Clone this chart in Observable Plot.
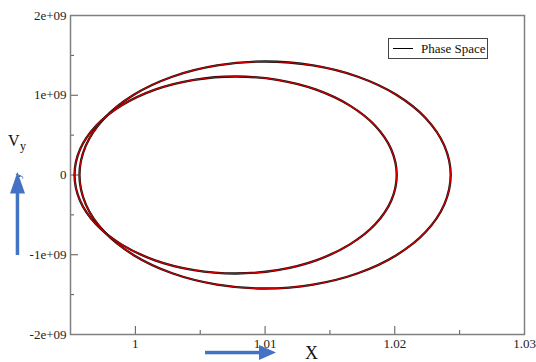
<!DOCTYPE html>
<html>
<head>
<meta charset="utf-8">
<script src="https://cdn.jsdelivr.net/npm/d3@7"></script>
<script src="https://cdn.jsdelivr.net/npm/@observablehq/plot@0.6"></script>
<style>
  body { margin: 0; background: #fff; }
  #wrap { position: relative; width: 536px; height: 362px; font-family: "Liberation Serif", "Times New Roman", serif; }
  #wrap svg text { font-family: "Liberation Serif", "Times New Roman", serif !important; }
  #wrap svg.deco { position: absolute; left: 0; top: 0; pointer-events: none; }
  #legend { position: absolute; left: 388px; top: 38px; width: 100px; height: 21px; box-sizing: border-box;
            border: 1px solid #444; background: #fff; font-size: 13px; color: #111; }
  #legend .sw { position: absolute; left: 4px; top: 9px; width: 20px; height: 0; border-top: 1.6px solid #000; }
  #legend .lb { position: absolute; left: 32px; top: 2px; line-height: 15px; white-space: nowrap; }
</style>
</head>
<body>
<div id="wrap"></div>
<script>
// Outer (taller, wider) loop
const loopAX  = [1.02431, 1.02382, 1.02239, 1.02012, 1.01716, 1.01370, 1.01000, 1.00630, 1.00284, 0.99988, 0.99761, 0.99618,
                 0.99569, 0.99618, 0.99761, 0.99988, 1.00284, 1.00630, 1.01000, 1.01370, 1.01716, 1.02012, 1.02239, 1.02382];
const loopAVy = [0, 0.368e9, 0.712e9, 1.006e9, 1.232e9, 1.374e9, 1.423e9, 1.374e9, 1.232e9, 1.006e9, 0.712e9, 0.368e9,
                 0, -0.368e9, -0.712e9, -1.006e9, -1.232e9, -1.374e9, -1.423e9, -1.374e9, -1.232e9, -1.006e9, -0.712e9, -0.368e9];
// Inner (shorter) loop
const loopBX  = [1.02015, 1.01973, 1.01849, 1.01651, 1.01394, 1.01095, 1.00773, 1.00452, 1.00152, 0.99895, 0.99697, 0.99573,
                 0.99531, 0.99573, 0.99697, 0.99895, 1.00152, 1.00452, 1.00773, 1.01095, 1.01394, 1.01651, 1.01849, 1.01973];
const loopBVy = [0, 0.320e9, 0.618e9, 0.873e9, 1.070e9, 1.193e9, 1.235e9, 1.193e9, 1.070e9, 0.873e9, 0.618e9, 0.320e9,
                 0, -0.320e9, -0.618e9, -0.873e9, -1.070e9, -1.193e9, -1.235e9, -1.193e9, -1.070e9, -0.873e9, -0.618e9, -0.320e9];

const xTicks = [1, 1.01, 1.02, 1.03];
const xTickLabels = ["1", "1.01", "1.02", "1.03"];
const xMinor = [1.005, 1.015, 1.025];
const yTicks = [-2e9, -1e9, 0, 1e9, 2e9];
const yTickLabels = ["-2e+09", "-1e+09", "0", "1e+09", "2e+09"];
const yMinor = [-1.5e9, -0.5e9, 0.5e9, 1.5e9];
const xDomain = [0.995, 1.03];
const yDomain = [-2e9, 2e9];
const legendLabel = "Phase Space";

const loopA = loopAX.map((x, i) => ({x, vy: loopAVy[i]}));
const loopB = loopBX.map((x, i) => ({x, vy: loopBVy[i]}));
const xLab = new Map(xTicks.map((t, i) => [t, xTickLabels[i]]));
const yLab = new Map(yTicks.map((t, i) => [t, yTickLabels[i]]));

const tickColor = "#555";
const chart = Plot.plot({
  width: 536, height: 362,
  marginLeft: 70, marginRight: 12, marginTop: 15, marginBottom: 28,
  style: {fontFamily: "Liberation Serif, serif", fontSize: "13px", color: "#222", background: "#fff"},
  x: {domain: xDomain, label: null},
  y: {domain: yDomain, label: null},
  marks: [
    Plot.axisX(xTicks, {tickSize: 0, tickPadding: 4.5, tickFormat: d => xLab.get(d), fill: "#222"}),
    Plot.axisY(yTicks, {tickSize: 0, tickPadding: 4, tickFormat: d => yLab.get(d), fill: "#222"}),
    Plot.ruleX(xTicks, {x: d => d, y1: () => yDomain[0], y2: () => yDomain[0], insetTop: -8, stroke: tickColor}),
    Plot.ruleX(xMinor, {x: d => d, y1: () => yDomain[0], y2: () => yDomain[0], insetTop: -4, stroke: tickColor}),
    Plot.ruleY(yTicks, {y: d => d, x1: () => xDomain[0], x2: () => xDomain[0], insetRight: -8, stroke: tickColor}),
    Plot.ruleY(yMinor, {y: d => d, x1: () => xDomain[0], x2: () => xDomain[0], insetRight: -4, stroke: tickColor}),
    Plot.line(loopA, {x: "x", y: "vy", curve: "catmull-rom-closed", stroke: "#111", strokeWidth: 2.3}),
    Plot.line(loopA, {x: "x", y: "vy", curve: "catmull-rom-closed", stroke: "#cc0000", strokeWidth: 1.2}),
    Plot.line(loopB, {x: "x", y: "vy", curve: "catmull-rom-closed", stroke: "#111", strokeWidth: 2.3}),
    Plot.line(loopB, {x: "x", y: "vy", curve: "catmull-rom-closed", stroke: "#cc0000", strokeWidth: 1.2}),
    Plot.frame({stroke: "#808080", strokeWidth: 1.5})
  ]
});
const wrap = document.getElementById("wrap");
wrap.appendChild(chart);

// Legend box
const leg = document.createElement("div");
leg.id = "legend";
leg.innerHTML = '<span class="sw"></span><span class="lb"></span>';
leg.querySelector(".lb").textContent = legendLabel;
wrap.appendChild(leg);

// Axis titles and blue arrows (annotations)
const ns = "http://www.w3.org/2000/svg";
const deco = document.createElementNS(ns, "svg");
deco.setAttribute("class", "deco");
deco.setAttribute("width", 536);
deco.setAttribute("height", 362);
deco.innerHTML = `
  <g fill="#111">
    <text x="8" y="146" font-size="16">V</text>
    <text x="20" y="150" font-size="12">y</text>
    <text transform="translate(21,176) rotate(-90)" font-size="11" text-anchor="middle" fill="#333">y</text>
    <text x="305" y="359" font-size="18">X</text>
  </g>
  <g fill="#4472C4">
    <rect x="15.7" y="190" width="3.5" height="65"/>
    <polygon points="10,193.5 25,193.5 17.5,172"/>
    <rect x="205" y="350.8" width="56" height="3.5"/>
    <polygon points="259,345 259,360 276,352.5"/>
  </g>`;
wrap.appendChild(deco);
</script>
</body>
</html>
